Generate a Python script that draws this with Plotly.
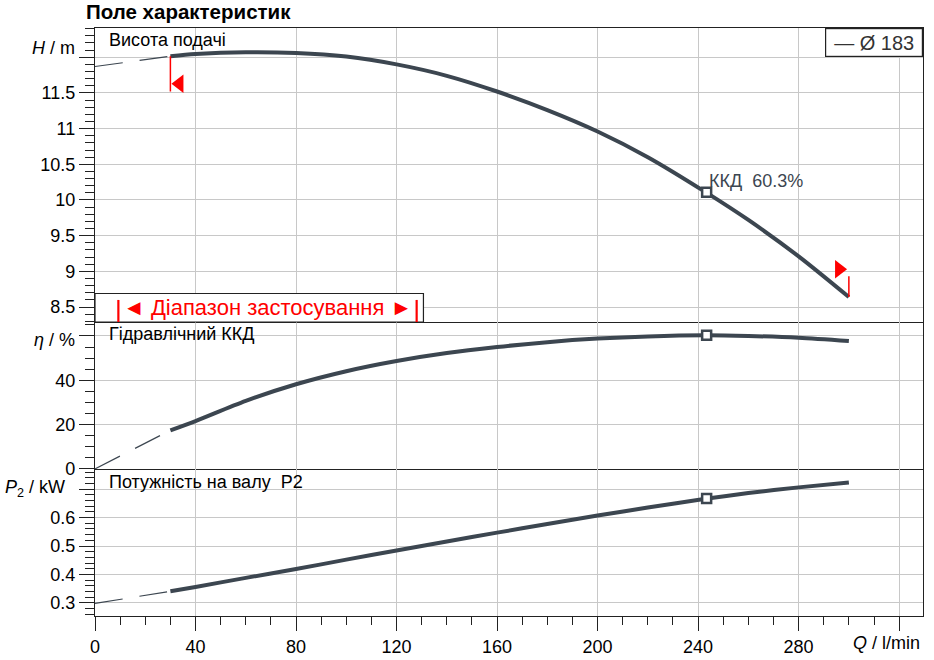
import plotly.graph_objects as go
from plotly.subplots import make_subplots

# ---------------- data ----------------
q_ext = [0, 30]                      # dashed extrapolation (l/min)
h_ext = [11.87, 12.015]
eta_ext = [0.0, 17.4]
p2_ext = [0.298, 0.341]

q = [30, 40, 60, 80, 100, 120, 140, 160, 180, 200, 220, 243, 260, 280, 300]
h = [12.015, 12.045, 12.07, 12.06, 12.01, 11.90, 11.74, 11.52, 11.26, 10.96,
     10.60, 10.11, 9.72, 9.21, 8.64]
eta = [17.4, 21.6, 30.7, 38.2, 44.1, 48.7, 52.3, 55.0, 57.2, 58.8, 59.8,
       60.3, 60.0, 59.2, 57.7]
p2 = [0.341, 0.356, 0.388, 0.419, 0.452, 0.484, 0.516, 0.547, 0.577, 0.607,
      0.635, 0.666, 0.686, 0.706, 0.723]

q_bep = [243.4]
h_bep = [10.11]
eta_bep = [60.3]
p2_bep = [0.667]

q_start, q_end = 30, 300
h_start_marker = [12.015, 11.52]
h_end_marker = [8.64, 8.93]
tri_left = (33.6, 11.63)
tri_right = (296.1, 9.03)

range_box_q = (0, 130.7)
range_bars_q = (9.3, 128)

x_ticks = [0, 40, 80, 120, 160, 200, 240, 280, 320]
x_ticktext = ["0", "40", "80", "120", "160", "200", "240", "280", " "]
h_ticks = [8.5, 9, 9.5, 10, 10.5, 11, 11.5, 12]
h_ticktext = ["8.5", "9", "9.5", "10", "10.5", "11", "11.5", " "]
eta_ticks = [0, 20, 40, 60]
eta_ticktext = ["0", "20", "40", " "]
p2_ticks = [0.3, 0.4, 0.5, 0.6, 0.7]
p2_ticktext = ["0.3", "0.4", "0.5", "0.6", " "]

# ---------------- style ----------------
LINE = "#3c4650"
RED = "#ff0000"
GRID = "#c8c8c8"
FRAME = "#222222"
FONT = "Liberation Sans, Arial, sans-serif"
TICKFONT = dict(family=FONT, size=18, color="black")

fig = make_subplots(rows=3, cols=1, shared_xaxes=True, vertical_spacing=0)

def add_curve(row, ext_y, y, bep_y):
    fig.add_trace(go.Scatter(x=q_ext, y=ext_y, mode="lines",
                             line=dict(color=LINE, width=1.2, dash="28px,17px"),
                             hoverinfo="skip", showlegend=False), row=row, col=1)
    fig.add_trace(go.Scatter(x=q, y=y, mode="lines",
                             line=dict(color=LINE, width=4, shape="spline", smoothing=0.8),
                             showlegend=False), row=row, col=1)
    fig.add_trace(go.Scatter(x=q_bep, y=bep_y, mode="markers",
                             marker=dict(symbol="square", size=9, color="white",
                                         line=dict(color=LINE, width=2.5)),
                             showlegend=False), row=row, col=1)

add_curve(1, h_ext, h, h_bep)
add_curve(2, eta_ext, eta, eta_bep)
add_curve(3, p2_ext, p2, p2_bep)

# red operating-range markers
fig.add_trace(go.Scatter(x=[q_start, q_start], y=h_start_marker, mode="lines",
                         line=dict(color=RED, width=1.5), showlegend=False), row=1, col=1)
fig.add_trace(go.Scatter(x=[q_end, q_end], y=h_end_marker, mode="lines",
                         line=dict(color=RED, width=1.5), showlegend=False), row=1, col=1)
fig.add_trace(go.Scatter(x=[tri_left[0]], y=[tri_left[1]], mode="markers",
                         marker=dict(symbol="triangle-left", size=16, color=RED),
                         showlegend=False), row=1, col=1)
fig.add_trace(go.Scatter(x=[tri_right[0]], y=[tri_right[1]], mode="markers",
                         marker=dict(symbol="triangle-right", size=16, color=RED),
                         showlegend=False), row=1, col=1)

# ---------------- axes ----------------
common_x = dict(range=[0, 329.5], tickvals=x_ticks, ticktext=x_ticktext,
                showgrid=True, gridcolor=GRID, gridwidth=1,
                showline=True, linecolor=FRAME, linewidth=1.2,
                zeroline=False, automargin=False)
fig.update_xaxes(**common_x)
fig.update_xaxes(ticks="", showticklabels=False, mirror=True, row=1, col=1)
fig.update_xaxes(ticks="", showticklabels=False, mirror=False, row=2, col=1)
fig.update_xaxes(ticks="outside", ticklen=14, tickcolor=FRAME, tickwidth=1.2,
                 tickfont=TICKFONT, mirror=False,
                 minor=dict(dtick=10, tick0=0, ticks="outside", ticklen=8,
                            tickcolor=FRAME, tickwidth=1.2, showgrid=False),
                 row=3, col=1)

common_y = dict(showgrid=True, gridcolor=GRID, gridwidth=1,
                showline=True, mirror=True, linecolor=FRAME, linewidth=1.2,
                zeroline=False, ticks="outside", ticklen=15, tickcolor=FRAME,
                tickwidth=1.2, tickfont=TICKFONT, automargin=False)
fig.update_yaxes(**common_y)
fig.update_yaxes(range=[8.29, 12.41], tickvals=h_ticks, ticktext=h_ticktext,
                 minor=dict(dtick=0.1, tick0=0, ticks="outside", ticklen=9,
                            tickcolor=FRAME, tickwidth=1.2, showgrid=False),
                 domain=[0.5, 1.0], row=1, col=1)
fig.update_yaxes(range=[0, 66.3], tickvals=eta_ticks, ticktext=eta_ticktext,
                 minor=dict(dtick=5, tick0=0, ticks="outside", ticklen=9,
                            tickcolor=FRAME, tickwidth=1.2, showgrid=False),
                 domain=[0.2502, 0.5], row=2, col=1)
fig.update_yaxes(range=[0.254, 0.771], tickvals=p2_ticks, ticktext=p2_ticktext,
                 minor=dict(dtick=0.02, tick0=0, ticks="outside", ticklen=9,
                            tickcolor=FRAME, tickwidth=1.2, showgrid=False),
                 domain=[0.0, 0.2502], row=3, col=1)

# ---------------- range box ----------------
fig.add_shape(type="rect", xref="x", yref="y domain",
              x0=range_box_q[0], x1=range_box_q[1], y0=0, y1=0.097,
              fillcolor="white", line=dict(color=FRAME, width=1.2), layer="above")
for xb in range_bars_q:
    fig.add_shape(type="line", xref="x", yref="y domain", x0=xb, x1=xb,
                  y0=0.0, y1=0.075, line=dict(color=RED, width=2.2), layer="above")
fig.add_annotation(xref="x", yref="y domain", x=(range_bars_q[0] + range_bars_q[1]) / 2,
                   y=0.051, text="◄ Діапазон застосування ►", showarrow=False,
                   font=dict(family=FONT, size=22, color=RED),
                   xanchor="center", yanchor="middle")

# ---------------- texts ----------------
def ann(text, x, y, xanchor="left", yanchor="middle", size=18, color="black", **kw):
    fig.add_annotation(xref="paper", yref="paper", x=x, y=y, text=text,
                       showarrow=False, xanchor=xanchor, yanchor=yanchor,
                       font=dict(family=FONT, size=size, color=color), **kw)

PW = 827.7
PH = 588.0
def px(xp): return (xp - 95) / PW
def py(yp): return (616 - yp) / PH

ann("<b>Поле характеристик</b>", px(84), py(12), size=20.5)
ann("<i>H</i> / m", px(77), py(48), xanchor="right")
ann("<i>η</i> / %", px(77), py(340), xanchor="right")
ann("<i>P</i><sub>2</sub> / kW", px(67), py(488), xanchor="right")
ann("<i>Q</i> / l/min", px(922), py(643), xanchor="right")
ann("Висота подачі", px(106.5), py(40))
ann("Гідравлічний ККД", px(106.5), py(334))
ann("Потужність на валу  P2", px(106.5), py(481.5))
ann("— Ø 183", 1.0, 1.0, xanchor="right", yanchor="top", size=20, color="#333",
    bordercolor=FRAME, borderwidth=1.2, borderpad=0, bgcolor="white",
    width=96, height=27)

fig.add_annotation(xref="x", yref="y", x=q_bep[0], y=h_bep[0],
                   text="ККД  60.3%", showarrow=False, xanchor="left",
                   yanchor="middle", yshift=11, xshift=0,
                   font=dict(family=FONT, size=18, color="#3c4650"))

fig.update_layout(width=934, height=660,
                  margin=dict(l=95, r=11, t=28, b=44, autoexpand=False),
                  plot_bgcolor="white", paper_bgcolor="white",
                  font=dict(family=FONT), showlegend=False)

fig.write_html("out.html", config={"displayModeBar": False},
               post_script="document.body.style.margin='0';"
                           "document.body.style.overflow='hidden';")
